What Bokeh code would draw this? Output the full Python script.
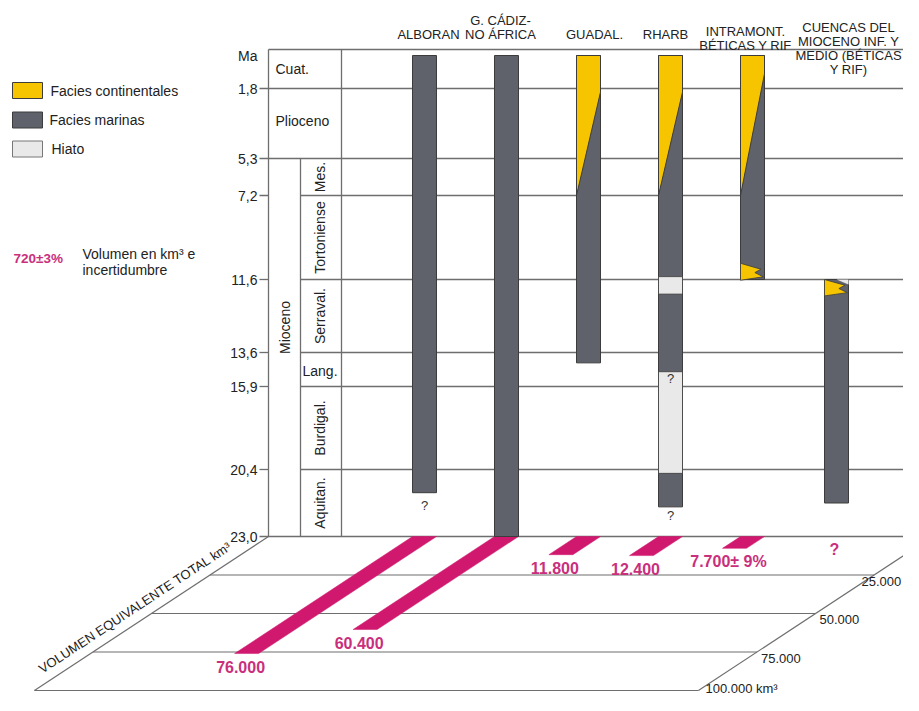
import numpy as np
from bokeh.plotting import figure
from bokeh.models import Range1d
from bokeh.embed import file_html
from bokeh.resources import INLINE
from bokeh.core.properties import value

# ---------------- data ----------------
BOUNDARY_AGES = [0.0, 1.8, 5.3, 7.2, 11.6, 13.6, 15.9, 20.4, 23.0]
TICK_LABELS = ["Ma", "1,8", "5,3", "7,2", "11,6", "13,6", "15,9", "20,4", "23,0"]

PERIODS = ["Cuat.", "Plioceno", "Mioceno"]
PERIOD_TOP = [0.0, 1.8, 5.3]
PERIOD_BASE = [1.8, 5.3, 23.0]

STAGES = ["Mes.", "Tortoniense", "Serraval.", "Lang.", "Burdigal.", "Aquitan."]
STAGE_TOP = [5.3, 7.2, 11.6, 13.6, 15.9, 20.4]
STAGE_BASE = [7.2, 11.6, 13.6, 15.9, 20.4, 23.0]
STAGE_VERTICAL = [True, True, True, False, True, True]

BASINS = ["ALBORAN", "G. CÁDIZ-\nNO ÁFRICA", "GUADAL.", "RHARB",
          "INTRAMONT.\nBÉTICAS Y RIF", "CUENCAS DEL\nMIOCENO INF. Y\nMEDIO (BÉTICAS\nY RIF)"]

# marine record (top / base age, Ma)
MARINE_TOP = [0.0, 0.0, 0.0, 0.0, 0.0, 11.6]
MARINE_BASE = [21.3, 23.0, 14.3, 21.85, 11.6, 21.7]

# hiatus intervals
HIATUS_BASIN = [3, 3]
HIATUS_TOP = [11.45, 14.9]
HIATUS_BASE = [12.0, 20.55]

# upper continental wedges (age of base at right edge / left edge)
CONT_BASIN = [2, 3, 4]
CONT_RIGHT_AGE = [1.98, 1.98, 1.0]
CONT_LEFT_AGE = [7.2, 7.2, 7.2]

# interfingered continental wedges
ZIG_BASIN = [4, 5]
ZIG_TOP = [10.75, 11.6]
ZIG_BASE = [11.62, 12.05]

# question marks inside the columns
QMARK_BASIN = [0, 3, 3]
QMARK_AGE = [21.8, 15.35, 22.2]

# total equivalent volume, km3
VOLUMES = [76000, 60400, 11800, 12400, 7700, 0]
VOLUME_LABELS = ["76.000", "60.400", "11.800", "12.400", "7.700± 9%", "?"]

FLOOR_TICKS = [0, 25000, 50000, 75000, 100000]
FLOOR_LABELS = ["", "25.000", "50.000", "75.000", "100.000 km³"]

LEGEND_LABELS = ["Facies continentales", "Facies marinas", "Hiato"]

# ---------------- layout / style ----------------
DARK = "#5f626a"
YELLOW = "#f6c500"
HIATUS = "#e9e9e9"
MAG = "#d0186f"
MAG_TXT = "#c92f7c"
LINE = "#6e6e6e"
OUTL = "#3c3c3c"
TXT = "#222222"
FONT = value("Liberation Sans")

W, H = 903, 695
BOUND_Y = [55, 88, 158, 195, 279, 352, 386, 469, 536]   # screen position of each age boundary


def age_y(a):
    return float(np.interp(a, BOUNDARY_AGES, BOUND_Y))


COL_X0 = [412, 494, 576, 658, 740, 824]
BAR_W = 24
FRAME_X0, STAGE_X0, COL_X1, RIGHT = 268, 300, 341, W
TOP_LINE = 49
TICK_X0 = 259
FLOOR_PX = 154.0     # px depth for 100 000 km3
SLANT = 1.52         # horizontal shift per px depth
FLOOR_W = 664        # width of the floor at its back edge
FLOOR_Y0 = age_y(23.0)


def depth(v):
    return v / 100000.0 * FLOOR_PX


p = figure(width=W, height=H, output_backend="svg", toolbar_location=None,
           x_range=Range1d(0, W), y_range=Range1d(H, 0),
           min_border=0, outline_line_color=None, background_fill_color="white",
           border_fill_color="white")
p.axis.visible = False
p.grid.visible = False

# ---- frame lines ----
xs, ys = [], []
for a in BOUNDARY_AGES[1:]:
    y = age_y(a)
    if a in (1.8, 5.3, 23.0):
        xs.append([TICK_X0, RIGHT]); ys.append([y, y])
    else:
        xs.append([TICK_X0, FRAME_X0]); ys.append([y, y])
        xs.append([STAGE_X0, RIGHT]); ys.append([y, y])
xs.append([FRAME_X0, RIGHT]); ys.append([TOP_LINE, TOP_LINE])
xs.append([FRAME_X0, FRAME_X0]); ys.append([TOP_LINE, FLOOR_Y0])
xs.append([COL_X1, COL_X1]); ys.append([TOP_LINE, FLOOR_Y0])
xs.append([STAGE_X0, STAGE_X0]); ys.append([age_y(5.3), FLOOR_Y0])
p.multi_line(xs, ys, line_color=LINE, line_width=1.3)

# ---- floor (volume) ----
fxs, fys = [], []
for v in FLOOR_TICKS[1:]:
    d = depth(v)
    y = FLOOR_Y0 + d
    x_left = FRAME_X0 - d * SLANT
    x_right = min(RIGHT, FRAME_X0 + FLOOR_W - d * SLANT)
    fxs.append([x_left, x_right]); fys.append([y, y])
dmax = depth(FLOOR_TICKS[-1])
fxs.append([FRAME_X0, FRAME_X0 - dmax * SLANT]); fys.append([FLOOR_Y0, FLOOR_Y0 + dmax])
d_edge = (FRAME_X0 + FLOOR_W - RIGHT) / SLANT
fxs.append([RIGHT, FRAME_X0 + FLOOR_W - dmax * SLANT]); fys.append([FLOOR_Y0 + d_edge, FLOOR_Y0 + dmax])
p.multi_line(fxs, fys, line_color=LINE, line_width=1.2)

lx, ly, lt = [], [], []
for v, lab in zip(FLOOR_TICKS[1:], FLOOR_LABELS[1:]):
    d = depth(v)
    xr = FRAME_X0 + FLOOR_W - d * SLANT + 4
    if v == FLOOR_TICKS[-1]:
        ly.append(FLOOR_Y0 + d - 2)
        lx.append(xr + 3)
    else:
        ly.append(FLOOR_Y0 + d + 6)
        lx.append(min(xr, W - 2 - 40))
    lt.append(lab)
p.text(lx, ly, text=lt, text_font=FONT, text_font_size="13px", text_color=TXT,
       text_align="left", text_baseline="middle")

# volume bands
bxs, bys = [], []
vx, vy, vt = [], [], []
for i, v in enumerate(VOLUMES):
    d = depth(v)
    x0 = COL_X0[i]
    if v > 0:
        bxs.append([x0, x0 + BAR_W, x0 + BAR_W - d * SLANT, x0 - d * SLANT])
        bys.append([FLOOR_Y0, FLOOR_Y0, FLOOR_Y0 + d, FLOOR_Y0 + d])
        vx.append(x0 - d * SLANT + 6)
    else:
        vx.append(x0 + BAR_W / 2 - 2)
    vy.append(FLOOR_Y0 + d + 13)
    vt.append(VOLUME_LABELS[i])
p.patches(bxs, bys, fill_color=MAG, line_color=MAG, line_width=0.5)
p.text(vx, vy, text=vt, text_font=FONT, text_font_size="16px", text_font_style="bold",
       text_color=MAG_TXT, text_align="center", text_baseline="middle")

# axis title along the left diagonal
dt = 0.537 * FLOOR_PX
nrm = np.hypot(1.0, SLANT)
tx = FRAME_X0 - dt * SLANT - 14 / nrm
ty = FLOOR_Y0 + dt - 14 * SLANT / nrm
p.text([tx], [ty], text=["VOLUMEN EQUIVALENTE TOTAL km³"], angle=np.arctan(1 / SLANT),
       text_font=FONT, text_font_size="13px", text_color=TXT,
       text_align="center", text_baseline="middle")

# ---- columns ----
p.quad(left=[COL_X0[i] for i in range(6)], right=[COL_X0[i] + BAR_W for i in range(6)],
       top=[age_y(a) for a in MARINE_TOP], bottom=[age_y(a) for a in MARINE_BASE],
       fill_color=DARK, line_color=OUTL, line_width=1)
p.quad(left=[COL_X0[i] for i in HIATUS_BASIN], right=[COL_X0[i] + BAR_W for i in HIATUS_BASIN],
       top=[age_y(a) for a in HIATUS_TOP], bottom=[age_y(a) for a in HIATUS_BASE],
       fill_color=HIATUS, line_color=OUTL, line_width=0.8)

cxs, cys = [], []
for b, ra, la_ in zip(CONT_BASIN, CONT_RIGHT_AGE, CONT_LEFT_AGE):
    x0 = COL_X0[b]
    cxs.append([x0, x0 + BAR_W, x0 + BAR_W, x0])
    cys.append([age_y(0), age_y(0), age_y(ra), age_y(la_)])
p.patches(cxs, cys, fill_color=YELLOW, line_color=OUTL, line_width=1)

# interfingering (zig-zag) wedges, shape as fraction of bar width / wedge height
ZZ_FX = [0.0, 0.85, 0.6, 0.95, 0.0]
ZZ_FY = [0.0, 0.35, 0.55, 0.8, 1.0]
zxs, zys = [], []
for b, t, bs in zip(ZIG_BASIN, ZIG_TOP, ZIG_BASE):
    x0 = COL_X0[b]
    yt, yb = age_y(t), age_y(bs)
    zxs.append([x0 + f * BAR_W for f in ZZ_FX])
    zys.append([yt + f * (yb - yt) for f in ZZ_FY])
p.patches(zxs, zys, fill_color=YELLOW, line_color=OUTL, line_width=0.8)
# small hiatus notch at top of the last column
b = ZIG_BASIN[1]
x0 = COL_X0[b]
p.patch([x0 + 0.5 * BAR_W, x0 + BAR_W, x0 + BAR_W],
        [age_y(ZIG_TOP[1]), age_y(ZIG_TOP[1]), age_y(ZIG_TOP[1]) + 5],
        fill_color=HIATUS, line_color=None)

p.text([COL_X0[b] + BAR_W / 2 for b in QMARK_BASIN], [age_y(a) for a in QMARK_AGE],
       text=["?"] * len(QMARK_BASIN), text_font=FONT, text_font_size="13px",
       text_color="#333333", text_align="center", text_baseline="middle")

# ---- headers ----
HEAD_X = [428, 500, 594, 665, 745, 848]
HEAD_Y = [34, 20, 34, 34, 31, 27]
hx, hy, ht = [], [], []
for i, name in enumerate(BASINS):
    for k, line in enumerate(name.split("\n")):
        hx.append(HEAD_X[i]); hy.append(HEAD_Y[i] + k * 14); ht.append(line)
p.text(hx, hy, text=ht, text_font=FONT, text_font_size="13px", text_color=TXT,
       text_align="center", text_baseline="middle")

# ---- time scale ----
p.text([257] * len(TICK_LABELS), [age_y(a) for a in BOUNDARY_AGES], text=TICK_LABELS,
       text_font=FONT, text_font_size="14px", text_color=TXT,
       text_align="right", text_baseline="middle")

p.text([275, 275], [age_y(PERIOD_TOP[0]) + 13, (age_y(PERIOD_TOP[1]) + age_y(PERIOD_BASE[1])) / 2 - 3],
       text=PERIODS[:2], text_font=FONT, text_font_size="14px", text_color=TXT,
       text_align="left", text_baseline="middle")
p.text([284], [(age_y(PERIOD_TOP[2]) + age_y(PERIOD_BASE[2])) / 2 - 20], text=[PERIODS[2]],
       angle=np.pi / 2, text_font=FONT, text_font_size="14px", text_color=TXT,
       text_align="center", text_baseline="middle")

sx, sy, st = [], [], []
hxs, hys, hts = [], [], []
for name, t, bs, vert in zip(STAGES, STAGE_TOP, STAGE_BASE, STAGE_VERTICAL):
    yc = (age_y(t) + age_y(bs)) / 2
    if vert:
        sx.append(319); sy.append(yc); st.append(name)
    else:
        hxs.append(302); hys.append(yc + 1); hts.append(name)
p.text(sx, sy, text=st, angle=np.pi / 2, text_font=FONT, text_font_size="14px",
       text_color=TXT, text_align="center", text_baseline="middle")
p.text(hxs, hys, text=hts, text_font=FONT, text_font_size="14px",
       text_color=TXT, text_align="left", text_baseline="middle")

# ---- legend ----
LEG_FILL = [YELLOW, DARK, HIATUS]
LEG_LINE = [OUTL, OUTL, "#777777"]
LEG_Y = [90, 119.5, 148.5]
p.quad(left=[12] * 3, right=[42] * 3, top=[y - 8 for y in LEG_Y], bottom=[y + 8 for y in LEG_Y],
       fill_color=LEG_FILL, line_color=LEG_LINE, line_width=1)
p.text([50, 49, 51], LEG_Y, text=LEGEND_LABELS, text_font=FONT, text_font_size="14px",
       text_color=TXT, text_align="left", text_baseline="middle")

p.text([13], [258], text=["720±3%"], text_font=FONT, text_font_size="13.5px",
       text_font_style="bold", text_color=MAG_TXT, text_align="left", text_baseline="middle")
p.text([82, 82], [253, 269], text=["Volumen en km³ e", "incertidumbre"], text_font=FONT,
       text_font_size="14px", text_color=TXT, text_align="left", text_baseline="middle")

open("out.html", "w").write(file_html(p, INLINE))
